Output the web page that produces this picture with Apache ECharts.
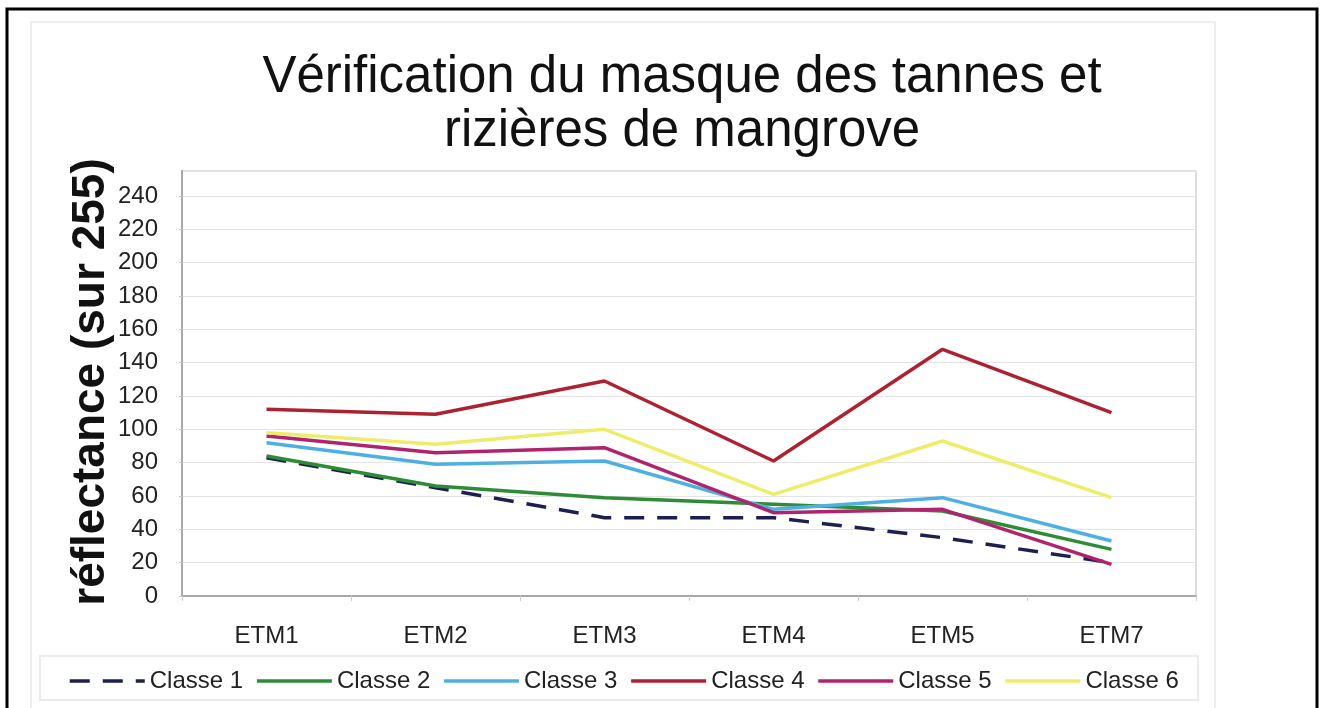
<!DOCTYPE html>
<html>
<head>
<meta charset="utf-8">
<title>Vérification du masque des tannes et rizières de mangrove</title>
<script src="https://cdn.jsdelivr.net/npm/echarts@6/dist/echarts.min.js"></script>
<style>
  html, body { margin: 0; padding: 0; background: #fff; }
  #chart { width: 1324px; height: 708px; }
</style>
</head>
<body>
<div id="chart"></div>
<script>
// bandes ETM
const categories = ['ETM1', 'ETM2', 'ETM3', 'ETM4', 'ETM5', 'ETM7']
const classNames = ['Classe 1', 'Classe 2', 'Classe 3', 'Classe 4', 'Classe 5', 'Classe 6']

// réflectance (sur 255)
const classe1 = [83, 65, 47, 47, 35, 20]
const classe2 = [84, 66, 59, 55, 51, 28]
const classe3 = [92, 79, 81, 52, 59, 33]
const classe4 = [112, 109, 129, 81, 148, 110]
const classe5 = [96, 86, 89, 50, 52, 19]
const classe6 = [98, 91, 100, 61, 93, 59]

const colors = ['#1c1f4f', '#2e8c37', '#4eb0e2', '#ad2232', '#b0246f', '#eded6a']
const font = "'Liberation Sans', Arial, sans-serif"

const chart = echarts.init(document.getElementById('chart'))

const makeSeries = (name, data, color, dashed) => ({
  name: name,
  type: 'line',
  data: data,
  symbol: 'none',
  lineStyle: { color: color, width: 3.5, type: dashed ? [20, 13] : 'solid' },
  itemStyle: { color: color }
})

const option = {
  backgroundColor: '#ffffff',
  animation: false,
  textStyle: { fontFamily: font },
  graphic: [
    {
      type: 'rect',
      shape: { x: 7, y: 9, width: 1310, height: 720 },
      style: { fill: 'none', stroke: '#000', lineWidth: 3 },
      silent: true
    },
    {
      type: 'rect',
      shape: { x: 31, y: 22, width: 1184, height: 700 },
      style: { fill: 'none', stroke: '#eeeeee', lineWidth: 2 },
      silent: true
    },
    {
      type: 'rect',
      shape: { x: 40, y: 656, width: 1158, height: 44 },
      style: { fill: 'none', stroke: '#ebebeb', lineWidth: 2 },
      silent: true
    },
    {
      type: 'text',
      x: 682, y: 78,
      style: {
        text: 'Vérification du masque des tannes et',
        fontFamily: font, fontSize: 51, fill: '#111',
        align: 'center', verticalAlign: 'middle'
      }
    },
    {
      type: 'text',
      x: 682, y: 132,
      style: {
        text: 'rizières de mangrove',
        fontFamily: font, fontSize: 51, fill: '#111',
        align: 'center', verticalAlign: 'middle'
      }
    },
    {
      type: 'text',
      x: 91, y: 382,
      rotation: Math.PI / 2,
      style: {
        text: 'réflectance (sur 255)',
        fontFamily: font, fontSize: 46, fontWeight: 'bold', fill: '#111',
        align: 'center', verticalAlign: 'middle'
      }
    }
  ],
  legend: {
    data: classNames,
    left: 63,
    top: 664,
    itemWidth: 75,
    itemHeight: 14,
    itemGap: 12,
    itemStyle: { opacity: 0 },
    lineStyle: { width: 3.5 },
    textStyle: { fontSize: 24, color: '#222', fontFamily: font }
  },
  grid: {
    left: 182, right: 128, top: 171, bottom: 112,
    show: true,
    borderColor: '#bdbdbd',
    borderWidth: 1
  },
  xAxis: {
    type: 'category',
    data: categories,
    boundaryGap: true,
    axisLine: { lineStyle: { color: '#a8a8a8', width: 2 } },
    axisTick: { show: true, length: 5, lineStyle: { color: '#d0d0d0' } },
    axisLabel: { fontSize: 24, color: '#222', margin: 28, fontFamily: font }
  },
  yAxis: {
    type: 'value',
    min: 0,
    max: 255,
    interval: 20,
    axisLine: { show: true, lineStyle: { color: '#a8a8a8', width: 2 } },
    axisTick: { show: true, length: 3, lineStyle: { color: '#c8c8c8' } },
    axisLabel: { fontSize: 24, color: '#222', margin: 24, showMaxLabel: false, fontFamily: font },
    splitLine: { lineStyle: { color: '#e4e4e4', width: 1 } }
  },
  series: [
    makeSeries(classNames[0], classe1, colors[0], true),
    makeSeries(classNames[1], classe2, colors[1], false),
    makeSeries(classNames[2], classe3, colors[2], false),
    makeSeries(classNames[3], classe4, colors[3], false),
    makeSeries(classNames[4], classe5, colors[4], false),
    makeSeries(classNames[5], classe6, colors[5], false)
  ]
}

chart.setOption(option)
window.addEventListener('resize', () => chart.resize())
</script>
</body>
</html>
